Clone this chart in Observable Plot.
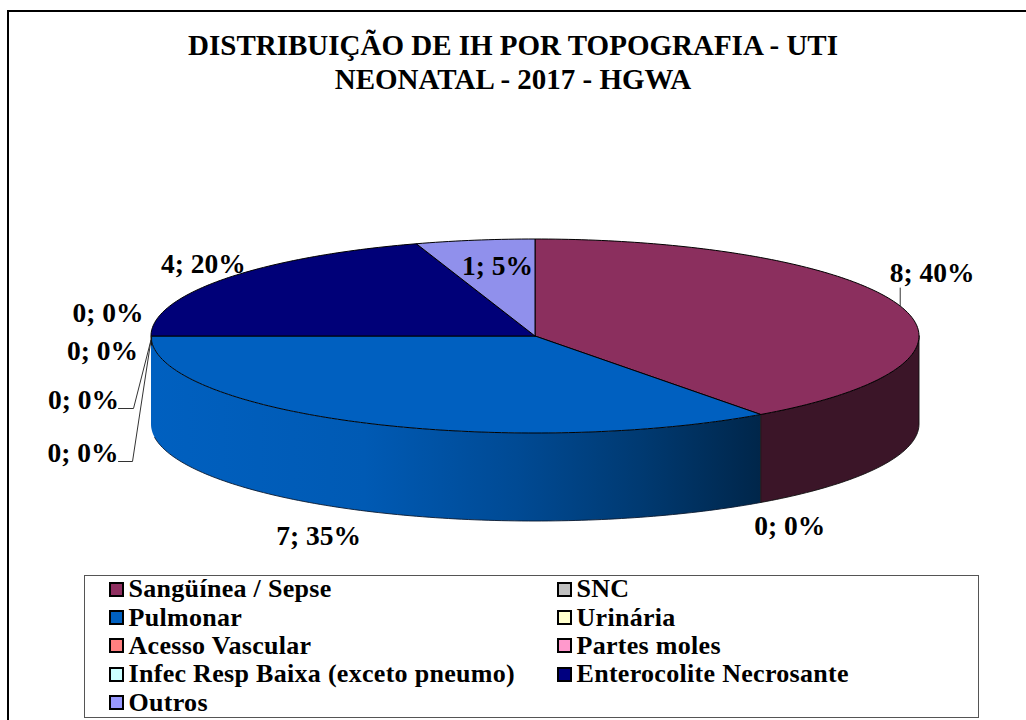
<!DOCTYPE html>
<html lang="pt">
<head>
<meta charset="utf-8">
<title>Distribuição de IH por topografia</title>
<script src="https://cdn.jsdelivr.net/npm/d3@7"></script>
<script src="https://cdn.jsdelivr.net/npm/@observablehq/plot@0.6"></script>
<style>
html,body{margin:0;padding:0;background:#fff;}
#page{position:relative;width:1026px;height:720px;overflow:hidden;font-family:"Liberation Serif",serif;color:#000;}
#frame{position:absolute;left:7px;top:10px;width:1100px;height:800px;border:solid #000;border-width:2.5px 0 0 2.5px;box-sizing:border-box;}
#title{position:absolute;left:0;width:1026px;top:28px;text-align:center;font-weight:bold;font-size:29px;line-height:34px;}
#chart{position:absolute;left:0;top:110px;}
#legend{position:absolute;left:83.5px;top:575px;width:895px;height:142.5px;box-sizing:border-box;border:1.5px solid #555;padding:0 0 0 24px;display:grid;grid-template-columns:448px 1fr;grid-auto-rows:28.4px;background:#fff;}
.item{display:flex;align-items:center;font-weight:bold;font-size:26px;letter-spacing:.3px;white-space:nowrap;position:relative;top:-1px;}
.sw{width:15px;height:15px;box-sizing:border-box;border:2px solid #000;margin-right:5px;flex:none;}
</style>
</head>
<body>
<div id="page">
<div id="frame"></div>
<div id="title">DISTRIBUIÇÃO DE IH POR TOPOGRAFIA - UTI<br>NEONATAL - 2017 - HGWA</div>
<div id="chart"></div>
<div id="legend"></div>
</div>
<script>
const categories = ["Sangüínea / Sepse","SNC","Pulmonar","Urinária","Acesso Vascular","Partes moles","Infec Resp Baixa (exceto pneumo)","Enterocolite Necrosante","Outros"];
const counts = [8,0,7,0,0,0,0,4,1];
const colors = ["#8b2f5e","#c0c0c0","#0060c0","#ffffcc","#ff8080","#ff99cc","#ccffff","#000078","#9090ec"];
const legendColors = ["#8f2f60","#c0c0c0","#0060c0","#ffffcc","#ff8080","#ff99cc","#ccffff","#000080","#9999ff"];
const maroonSideColor = "#3b1528";
const blueSideStops = [[0,"#00264a"],[0.2,"#003a72"],[0.4,"#004a94"],[0.65,"#005ab4"],[1,"#0060c0"]];
const labelOffsets = [[32,-32.5],[29,112],[-42,114],[-43,-23],[-48.5,15],[-67.5,64],[-68,117],[-21,-15],[22.6,26]];

// Pie geometry (in chart units, which are page pixels)
const cx = 534.5, cy = 335.5, rx = 384, ry = 97, depth = 88;
const px = a => cx + rx * Math.sin(a * Math.PI / 180);
const py = a => cy - ry * Math.cos(a * Math.PI / 180);

const total = d3.sum(counts);
let acc = 0;
const slices = categories.map((name,i) => {
  const start = acc / total * 360;
  acc += counts[i];
  const end = acc / total * 360;
  return {name, value: counts[i], start, end, mid: (start + end) / 2, color: colors[i], offset: labelOffsets[i]};
});

function arc(a0, a1){
  const out = [];
  const n = Math.max(1, Math.ceil(Math.abs(a1 - a0)));
  for (let k = 0; k <= n; k++) out.push(a0 + (a1 - a0) * k / n);
  return out;
}

// Top faces
const topFaces = slices.filter(s => s.value > 0).flatMap(s => {
  const ring = arc(s.start, s.end).map(a => ({name:s.name, color:s.color, x:px(a), y:py(a)}));
  const c = {name:s.name, color:s.color, x:cx, y:cy};
  return [c, ...ring, c];
});

// Side walls: the visible (front) part of each slice, 90° to 270°
function wall(s){
  const a0 = Math.max(s.start, 90), a1 = Math.min(s.end, 270);
  if (a1 <= a0) return [];
  const upper = arc(a0, a1).map(a => ({name:s.name, x:px(a), y:py(a)}));
  const lower = arc(a1, a0).map(a => ({name:s.name, x:px(a), y:py(a) + depth}));
  return [...upper, ...lower, upper[0]];
}
const maroonWall = wall(slices[0]);
const blueWall = wall(slices[2]);
const blueBottom = arc(slices[2].start, 262).map(a => ({x:px(a), y:py(a) + depth}));

// Labels, attached to each slice's mid angle
const labels = slices.map(s => ({
  text: `${s.value}; ${Math.round(s.value / total * 100)}%`,
  x: px(s.mid) + s.offset[0],
  y: py(s.mid) + s.offset[1]
}));

// Leader lines from slice to label
const leaders = [
  [[px(slices[0].mid), py(slices[0].mid)], [px(slices[0].mid), py(slices[0].mid) - 18]],
  [[px(270), py(270) + 4], [133, 408], [118, 408]],
  [[px(270), py(270) + 4], [132, 461], [118, 461]]
].flatMap((pts,i) => pts.map(p => ({id:i, x:p[0], y:p[1]})));
const stub = [{x:px(270)+0.5,y:py(270)},{x:px(270)+0.5,y:py(270)+9}];

const chart = Plot.plot({
  width: 1026,
  height: 460,
  margin: 0,
  x: {domain:[0,1026], range:[0,1026], axis:null},
  y: {domain:[110,570], range:[0,460], axis:null},
  color: {type:"identity"},
  style: {background:"transparent", overflow:"visible"},
  marks: [
    Plot.line(blueWall, {x:"x", y:"y", fill:"url(#blueSide)", stroke:"none"}),
    Plot.line(blueBottom, {x:"x", y:"y", stroke:"#0a1a30", strokeWidth:0.9}),
    Plot.line(maroonWall, {x:"x", y:"y", fill:maroonSideColor, stroke:"#111", strokeWidth:0.9}),
    Plot.line(topFaces, {x:"x", y:"y", z:"name", fill:"color", stroke:"#000", strokeWidth:1, strokeLinejoin:"round"}),
    Plot.line(leaders, {x:"x", y:"y", z:"id", stroke:"#333", strokeWidth:1}),
    Plot.line(stub, {x:"x", y:"y", stroke:"#111", strokeWidth:1.2}),
    Plot.text(labels, {x:"x", y:"y", text:"text", fill:"#000", fontFamily:"Liberation Serif", fontWeight:"bold", fontSize:27.5, textAnchor:"middle", lineAnchor:"middle"})
  ]
});
const defs = document.createElementNS("http://www.w3.org/2000/svg","defs");
defs.innerHTML = `<linearGradient id="blueSide" x1="1" x2="0" y1="0" y2="0">` +
  blueSideStops.map(([o,c]) => `<stop offset="${o}" stop-color="${c}"/>`).join("") + `</linearGradient>`;
chart.insertBefore(defs, chart.firstChild);
document.getElementById("chart").appendChild(chart);

const legend = d3.select("#legend");
categories.forEach((c,i) => {
  const it = legend.append("div").attr("class","item");
  it.append("span").attr("class","sw").style("background",legendColors[i]);
  it.append("span").text(c);
});
</script>
</body>
</html>
